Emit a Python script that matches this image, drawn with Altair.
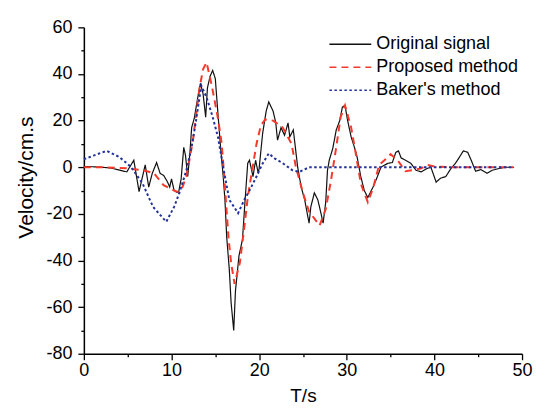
import altair as alt
import pandas as pd

# ---- data ----
orig_t = [0, 1, 2, 3, 3.8, 4.9, 5.7, 6.3, 7.0, 7.4, 7.8, 8.3, 8.7, 9.1, 9.5, 9.8, 10.0, 10.3,
          10.6, 10.8, 11.1, 11.4, 11.6, 11.85, 12.1, 12.3, 12.6, 13.0, 13.3, 13.6, 13.9, 14.1,
          14.4, 14.7, 15.0, 15.3, 15.6, 15.9, 16.1, 16.3, 16.6, 16.8, 17.1, 17.3, 17.7, 18.1,
          18.4, 18.7, 18.9, 19.3, 19.6, 19.9, 20.0, 20.4, 20.8, 21.1, 21.6, 21.9, 22.1, 22.5,
          22.9, 23.3, 23.5, 23.9, 24.4, 24.8, 25.2, 25.7, 25.9, 26.3, 26.7, 27.1, 27.3, 27.6,
          27.8, 28.0, 28.4, 28.8, 29.2, 29.5, 29.8, 30.1, 30.5, 31.0, 31.2, 31.6, 32.0, 32.4,
          33.0, 33.5, 33.9, 34.7, 35.2, 35.6, 35.9, 36.2, 36.7, 37.3, 37.9, 38.5, 39.2, 39.6,
          40.2, 40.7, 41.3, 41.9, 42.4, 42.8, 43.3, 43.8, 44.2, 44.7, 45.3, 46.0, 46.6, 47.4,
          48.1, 49.1]
orig_v = [0.3, 0.2, 0, -0.3, -1, -2, 3, -10.5, 1, -8.5, -2.7, 2, -2.6, -3.5, -6, -8.5, -5, -10,
          -10.7, -11, -5, 8.5, 5, -4, 6, 17, 21, 30, 36, 31.6, 21.5, 34,
          39, 41.5, 38, 23, 8.6, -4, -14, -30, -44, -58, -70, -53, -38, -31,
          -14, 1.7, 3, -4, 3, -2.6, -0.5, 14.5, 24, 28, 24, 19, 11.6, 17,
          13.7, 19, 13, 16, 0, -8.5, -14, -24, -17, -11, -14, -20.5, -24, -15,
          -1.3, 3, 8, 16, 20, 25.8, 26.5, 20, 13, 7, 4, -4, -10, -13,
          -8.5, -4, 0, 1.7, 2, 6.4, 7, 4, 3, 1.7, -1.3, -2, -0.5, 0,
          -6.4, -4.7, -4, -0.5, 1.7, 4, 7, 6.4, 3, -1.7, -1, -2.6, -1.3, -0.5,
          0, 0]

prop_t = [0, 2, 4, 5, 6, 7, 8, 9.1, 10.3, 10.8, 11.2, 11.7, 12.45, 13.2, 13.6, 14.0, 14.6,
          15.3, 15.7, 15.9, 16.2, 16.5, 16.8, 17.2, 17.8, 18.3, 18.7, 19.2, 19.7, 20.2, 20.7,
          21.6, 22.7, 23.7, 24.2, 25.0, 25.7, 26.9, 27.6, 28.2, 28.8, 29.3, 29.8, 30.5, 31.1,
          31.6, 32.4, 33.0, 33.7, 34.3, 35.0, 35.8, 36.7, 37.5, 38.5, 39.2, 40, 42, 45, 49]
prop_v = [0, 0, -0.3, -0.5, -1, -1.5, -2.6, -7.7, -10, -10.7, -9, -4, 11.6, 34, 42, 45, 35,
          21, 11, 2, -14, -30, -41, -50, -41, -26, -13, -1.3, 10, 18, 20.5,
          20, 17, 10, 0, -11, -19, -25, -18, -5.6, 8.6, 21.5, 26.5, 17, 4.3,
          -7, -15, -9, 1, 3, 5.6, 3, -1.7, -1.3, -0.5, 1, 0.3, 0, 0, 0]

baker_t = [0, 1.1, 2.6, 4.0, 4.9, 5.4, 6.7, 7.9, 9.4, 10.3, 10.9, 11.7, 12.3, 12.8, 13.4, 14.0,
           14.7, 15.3, 16.1, 16.6, 17.6, 18.3, 18.9, 19.7, 20.4, 21.1, 21.8, 22.7, 23.8, 24.6,
           25.7, 27, 30, 40, 49]
baker_v = [3.4, 5, 7, 4.5, 1.7, 0, -7, -17, -23.4, -17, -11, -1.3, 8.7, 20, 35, 30,
           21.5, 13, -4, -14, -19.7, -14, -10, -4, 1.6, 5.9, 3.7, 1.7, -1.3, -2,
           0, 0, 0, 0, 0]

series_names = ["Original signal", "Proposed method", "Baker's method"]
series_colors = ["#111111", "#f5392a", "#23329a"]
series_dashes = [[1, 0], [7, 5], [2.5, 2.5]]
series_widths = [1.2, 2.0, 2.0]

x_ticks = list(range(0, 51, 5))
y_ticks = list(range(-80, 61, 10))

FONT = "Liberation Sans"

frames = [
    pd.DataFrame({"t": orig_t, "v": orig_v, "series": series_names[0]}),
    pd.DataFrame({"t": prop_t, "v": prop_v, "series": series_names[1]}),
    pd.DataFrame({"t": baker_t, "v": baker_v, "series": series_names[2]}),
]

xscale = alt.Scale(domain=[0, 50], nice=False, zero=False)
yscale = alt.Scale(domain=[-80, 60], nice=False, zero=False)

x_axis = alt.Axis(
    values=x_ticks,
    labelExpr="datum.value % 10 === 0 ? '' + datum.value : ''",
    tickSize={"condition": {"test": "datum.value % 10 === 0", "value": 6}, "value": 3},
    title="T/s", titleFontSize=19, titlePadding=7,
    labelFontSize=18, labelPadding=2, labelOverlap=False, labelFlush=False,
)
y_axis = alt.Axis(
    values=y_ticks,
    labelExpr="datum.value % 20 === 0 ? '' + datum.value : ''",
    tickSize={"condition": {"test": "datum.value % 20 === 0", "value": 6}, "value": 3},
    title="Velocity/cm.s", titleFontSize=21, titlePadding=9, titleY=150,
    labelFontSize=18, labelPadding=6, labelOverlap=False, labelFlush=False,
)

color = alt.Color("series:N", scale=alt.Scale(domain=series_names, range=series_colors),
                  title=None)
dash = alt.StrokeDash("series:N", scale=alt.Scale(domain=series_names, range=series_dashes),
                      title=None)

layers = []
for i, df in enumerate(frames):
    layers.append(
        alt.Chart(df).mark_line(strokeWidth=series_widths[i], interpolate="linear").encode(
            x=alt.X("t:Q", scale=xscale, axis=x_axis),
            y=alt.Y("v:Q", scale=yscale, axis=y_axis),
            color=color,
            strokeDash=dash,
            order=alt.Order("t:Q"),
        )
    )

chart = alt.layer(*layers).properties(
    width=439, height=327,
    autosize=alt.AutoSizeParams(type="none"),
    padding={"left": 76, "top": 19, "right": 20, "bottom": 60},
    background="white",
).configure_view(stroke=None).configure_axis(
    labelFont=FONT, titleFont=FONT, labelColor="black", titleColor="black",
    domainColor="black", tickColor="black", domainWidth=1.5, tickWidth=1.3,
    grid=False, titleFontWeight="normal",
).configure_legend(
    orient="none", legendX=258, legendY=8, padding=0,
    symbolType="M-4,0L4,0", symbolSize=110, symbolStrokeWidth=1.5,
    labelFont=FONT, labelFontSize=18, labelColor="black", labelOffset=17,
    rowPadding=5, labelLimit=300,
)

chart.save("out.html", embed_options={"renderer": "svg", "actions": False})
